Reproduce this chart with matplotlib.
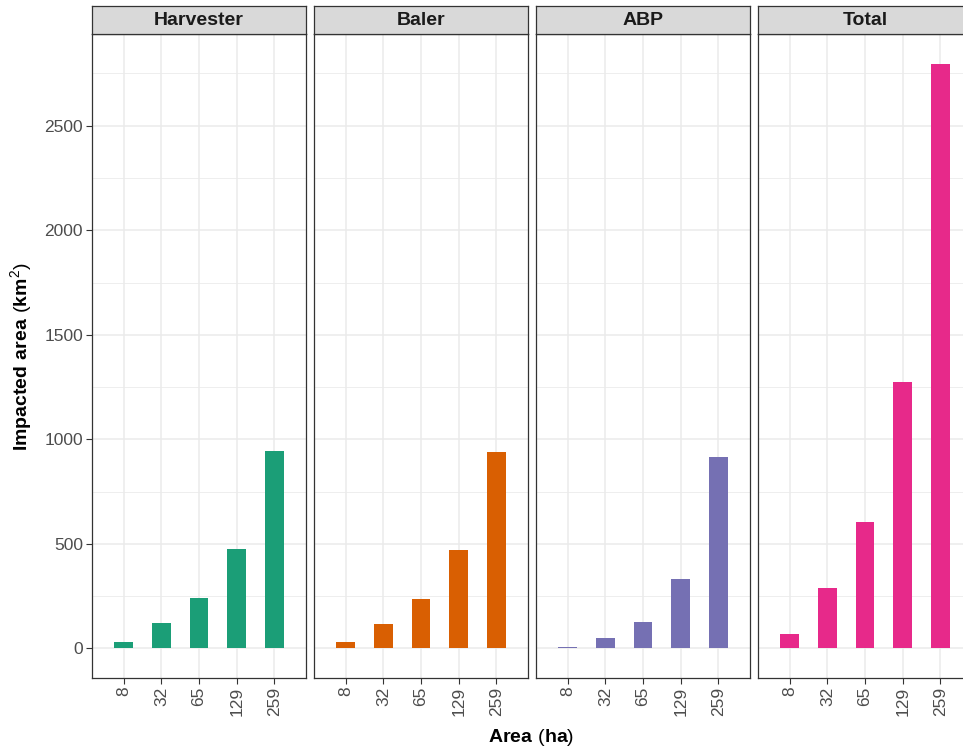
import matplotlib.pyplot as plt
from matplotlib.ticker import MultipleLocator

plt.rcParams['font.family'] = ['Liberation Sans', 'DejaVu Sans']
plt.rcParams['mathtext.fontset'] = 'custom'
plt.rcParams['mathtext.rm'] = 'Liberation Sans'
plt.rcParams['mathtext.bf'] = 'Liberation Sans:bold'

# impacted area (km2) per machine and field size class
sizes = ['8', '32', '65', '129', '259']
harvester = [32, 123, 242, 477, 944]
baler = [32, 118, 237, 471, 939]
abp = [8, 51, 127, 333, 915]
total = [70, 290, 604, 1273, 2797]

panels = ['Harvester', 'Baler', 'ABP', 'Total']
series = [harvester, baler, abp, total]
colors = ['#1B9E77', '#D95F02', '#7570B3', '#E7298A']

W, H = 963, 751
fig = plt.figure(figsize=(W / 100, H / 100), dpi=100)

lefts = [92, 314, 536, 758]
pw = 214
top, bottom = 34.3, 677.7
strip_h = 28.3

x = list(range(1, len(sizes) + 1))
for i, (name, vals, col) in enumerate(zip(panels, series, colors)):
    ax = fig.add_axes([lefts[i] / W, (H - bottom) / H, pw / W, (bottom - top) / H])
    ax.bar(x, vals, width=0.5, color=col, zorder=3)
    ax.set_xlim(0.157, 5.843)
    ax.set_ylim(-140, 2937)
    ax.set_xticks(x)
    ax.set_xticklabels(sizes, rotation=90, va='top', ha='center')
    ax.yaxis.set_major_locator(MultipleLocator(500))
    ax.yaxis.set_minor_locator(MultipleLocator(250))
    ax.grid(which='major', color='#EBEBEB', linewidth=1.1, zorder=0)
    ax.grid(which='minor', axis='y', color='#EBEBEB', linewidth=0.6, zorder=0)
    ax.set_axisbelow(True)
    ax.tick_params(axis='both', which='major', length=4, width=0.8, color='#333333',
                   labelsize=12.5, labelcolor='#4D4D4D', pad=2.5)
    ax.tick_params(axis='y', which='minor', length=0)
    if i > 0:
        ax.tick_params(axis='y', which='major', length=0, labelleft=False)
    for s in ax.spines.values():
        s.set_color('#333333')
        s.set_linewidth(0.9)

    # facet strip
    sx = fig.add_axes([lefts[i] / W, (H - top) / H, pw / W, strip_h / H])
    sx.set_facecolor('#D9D9D9')
    sx.set_xticks([])
    sx.set_yticks([])
    for s in sx.spines.values():
        s.set_color('#333333')
        s.set_linewidth(0.9)
    sx.text(0.5, 0.47, name, transform=sx.transAxes, ha='center', va='center',
            fontsize=14, fontweight='bold', color='#1A1A1A')

fig.text(531 / W, 1 - 737 / H, r'$\mathbf{Area}\ (\mathbf{ha})$', ha='center', va='center',
         fontsize=14, color='black')
fig.text(22 / W, 1 - 357 / H, r'$\mathbf{Impacted\ area}\ (\mathbf{km}^{2})$', ha='center',
         va='center', rotation=90, fontsize=14, color='black')

fig.savefig('out.png', dpi=100, facecolor='white')
